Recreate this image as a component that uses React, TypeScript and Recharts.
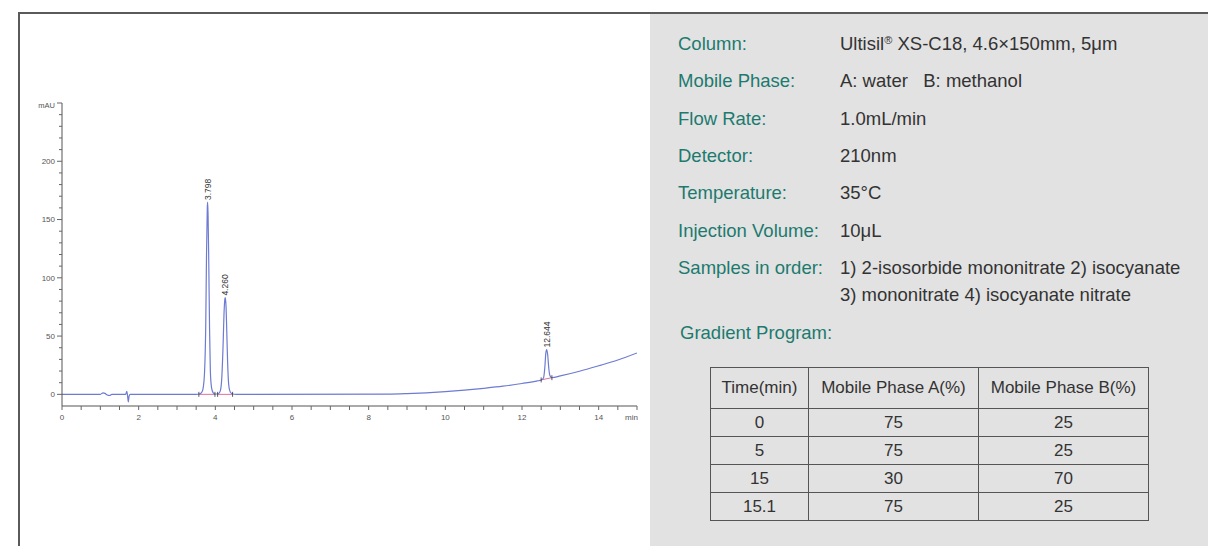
import React from 'react';
import { LineChart, Line, XAxis, YAxis } from 'recharts';

// ---- Chromatogram trace (time in min, signal in mAU) ----
const traceTime = [
  0, 1.0, 1.07, 1.12, 1.18, 1.24, 1.3, 1.66, 1.69, 1.71, 1.73, 1.75, 1.78,
  3.5, 3.58, 3.64, 3.68, 3.72, 3.75, 3.77, 3.79, 3.798, 3.81, 3.83, 3.85, 3.87, 3.9, 3.94, 3.99,
  4.08, 4.13, 4.17, 4.2, 4.23, 4.25, 4.26, 4.28, 4.3, 4.32, 4.35, 4.39, 4.45, 4.55,
  8.5, 9.0, 9.5, 10.0, 10.5, 11.0, 11.5, 12.0, 12.4, 12.5, 12.56, 12.6, 12.62, 12.644,
  12.67, 12.7, 12.73, 12.78, 13.0, 13.5, 14.0, 14.5, 15.0,
];
const traceSignal = [
  0, 0, 1.2, 0.8, -0.6, -1.0, 0, 0, 2.5, -1, -6.5, -1.5, 0,
  0, 0.3, 1.5, 5, 20, 60, 120, 160, 165, 155, 110, 55, 20, 6, 1.5, 0.2,
  0.5, 3, 15, 40, 72, 82, 83, 75, 52, 28, 8, 2, 0.3, 0,
  0.2, 0.6, 1.3, 2.3, 3.6, 5.2, 7.0, 9.3, 11.5, 12.3, 14, 25, 35, 38.5,
  34, 22, 16, 14.3, 15.8, 19.8, 24.5, 29.5, 35.5,
];

// integration baselines (pink) under each peak
const baseTime = [3.57, 3.99, 4.02, 4.06, 4.45, 4.6, 12.5, 12.78];
const baseSignal = [0, 0, null, 0, 0, null, 12.4, 14.3];

// peak annotations
const peakTimes = [3.798, 4.26, 12.644];
const peakLabels = ['3.798', '4.260', '12.644'];

// axes
const xTicks = [0, 0.5, 1, 1.5, 2, 2.5, 3, 3.5, 4, 4.5, 5, 5.5, 6, 6.5, 7, 7.5, 8, 8.5, 9, 9.5, 10, 10.5, 11, 11.5, 12, 12.5, 13, 13.5, 14, 14.5, 15];
const xLabelTicks = [0, 2, 4, 6, 8, 10, 12, 14];
const yTicks = [0, 10, 20, 30, 40, 50, 60, 70, 80, 90, 100, 110, 120, 130, 140, 150, 160, 170, 180, 190, 200, 210, 220, 230, 240, 250];
const yLabelTicks = [0, 50, 100, 150, 200];

// conditions panel
const condLabels = ['Column:', 'Mobile Phase:', 'Flow Rate:', 'Detector:', 'Temperature:', 'Injection Volume:', 'Samples in order:'];
const condValues = [
  'Ultisil® XS-C18, 4.6×150mm, 5μm',
  'A: water\u00a0\u00a0\u00a0B: methanol',
  '1.0mL/min',
  '210nm',
  '35°C',
  '10μL',
  '1) 2-isosorbide mononitrate 2) isocyanate',
];
const samplesLine2 = '3) mononitrate 4) isocyanate nitrate';

const gradHeaders = ['Time(min)', 'Mobile Phase A(%)', 'Mobile Phase B(%)'];
const gradTime = ['0', '5', '15', '15.1'];
const gradA = ['75', '75', '30', '75'];
const gradB = ['25', '25', '70', '25'];

const traceData = traceTime.map((t, i) => ({ t, v: traceSignal[i] }));
const baseData = baseTime.map((t, i) => ({ t, b: baseSignal[i] }));

const PLOT_LEFT = 62;
const PLOT_BOTTOM = 406;
const AX_FONT = 'Arial, "Liberation Sans", sans-serif';

const YTick = (props: any) => {
  const { y, payload } = props;
  const v = payload.value;
  const major = yLabelTicks.includes(v) || v === 250;
  const len = major ? 5 : 3;
  return (
    <g>
      <line x1={PLOT_LEFT - len} x2={PLOT_LEFT} y1={y} y2={y} stroke="#666" strokeWidth={1} />
      {yLabelTicks.includes(v) && (
        <text x={PLOT_LEFT - 7} y={y} dy="0.35em" textAnchor="end" fontSize={8} fill="#555" fontFamily={AX_FONT}>
          {v}
        </text>
      )}
      {v === 250 && (
        <text x={PLOT_LEFT - 7} y={y + 2} dy="0.35em" textAnchor="end" fontSize={7.5} fill="#555" fontFamily={AX_FONT}>
          mAU
        </text>
      )}
    </g>
  );
};

const XTick = (props: any) => {
  const { x, payload } = props;
  const v = payload.value;
  return (
    <g>
      <line x1={x} x2={x} y1={PLOT_BOTTOM} y2={PLOT_BOTTOM + 4} stroke="#666" strokeWidth={1} />
      {xLabelTicks.includes(v) && (
        <text x={x} y={PLOT_BOTTOM + 13.5} textAnchor="middle" fontSize={8} fill="#555" fontFamily={AX_FONT}>
          {v}
        </text>
      )}
      {v === 15 && (
        <text x={x + 1} y={PLOT_BOTTOM + 13.5} textAnchor="end" fontSize={8} fill="#555" fontFamily={AX_FONT}>
          min
        </text>
      )}
    </g>
  );
};

const PeakDot = (props: any) => {
  const { cx, cy, payload, index } = props;
  const i = peakTimes.indexOf(payload.t);
  if (i < 0) return <g key={`pd${index}`} />;
  const yy = cy - 2;
  return (
    <text
      key={`pd${index}`}
      x={cx}
      y={yy}
      dy="0.35em"
      transform={`rotate(-90 ${cx} ${yy})`}
      textAnchor="start"
      fontSize={8.5}
      fill="#333"
      fontFamily={AX_FONT}
    >
      {peakLabels[i]}
    </text>
  );
};

const BaseDot = (props: any) => {
  const { cx, cy, payload, index } = props;
  if (payload.b === null || payload.b === undefined) return <g key={`bd${index}`} />;
  return <line key={`bd${index}`} x1={cx} x2={cx} y1={cy - 2.5} y2={cy + 2.5} stroke="#333" strokeWidth={0.8} />;
};

export default function App() {
  const labelColor = '#1c7a6f';
  const valueColor = '#333';
  const rowCenters = [44, 81, 119, 156, 193, 231, 268];
  const textStyle: React.CSSProperties = {
    position: 'absolute',
    fontSize: 18.5,
    lineHeight: '22px',
    whiteSpace: 'nowrap',
  };
  const cellBorder = '1.5px solid #555';
  return (
    <div
      style={{
        position: 'absolute',
        left: 0,
        top: 0,
        width: 1208,
        height: 546,
        background: '#fff',
        overflow: 'hidden',
        fontFamily: 'Arial, "Liberation Sans", sans-serif',
      }}
    >
      <div style={{ position: 'absolute', left: 650, top: 13, width: 558, height: 533, background: '#e2e2e2' }} />
      <div style={{ position: 'absolute', left: 18, top: 12, width: 1190, height: 1.5, background: '#5a5a5a' }} />
      <div style={{ position: 'absolute', left: 18, top: 12, width: 1.5, height: 534, background: '#5a5a5a' }} />

      <div style={{ position: 'absolute', left: 0, top: 0 }}>
        <LineChart width={650} height={546} data={traceData} margin={{ top: 103, right: 13, bottom: 110, left: 22 }}>
          <XAxis
            type="number"
            dataKey="t"
            domain={[0, 15]}
            ticks={xTicks}
            interval={0}
            tick={XTick}
            tickLine={false}
            axisLine={{ stroke: '#555', strokeWidth: 1 }}
            height={30}
            allowDataOverflow
          />
          <YAxis
            type="number"
            domain={[-10, 250]}
            ticks={yTicks}
            interval={0}
            tick={YTick}
            tickLine={false}
            axisLine={{ stroke: '#555', strokeWidth: 1 }}
            width={40}
            allowDataOverflow
          />
          <Line
            data={baseData}
            dataKey="b"
            type="linear"
            stroke="#e0719b"
            strokeWidth={1}
            dot={BaseDot}
            activeDot={false}
            connectNulls={false}
            isAnimationActive={false}
          />
          <Line
            dataKey="v"
            type="monotone"
            stroke="#6d7bd2"
            strokeWidth={1.2}
            dot={PeakDot}
            activeDot={false}
            isAnimationActive={false}
          />
        </LineChart>
      </div>

      {condLabels.map((lab, i) => (
        <div key={`l${i}`} style={{ ...textStyle, left: 678, top: rowCenters[i] - 11, color: labelColor }}>
          {lab}
        </div>
      ))}
      {condValues.map((val, i) => (
        <div key={`v${i}`} style={{ ...textStyle, left: 840, top: rowCenters[i] - 11, color: valueColor }}>
          {i === 0 ? (
            <span>
              Ultisil<sup style={{ fontSize: 11, verticalAlign: 'top', lineHeight: '14px' }}>®</sup>
              {val.slice(8)}
            </span>
          ) : (
            val
          )}
        </div>
      ))}
      <div style={{ ...textStyle, left: 840, top: 295 - 11, color: valueColor }}>{samplesLine2}</div>
      <div style={{ ...textStyle, left: 680, top: 333 - 11, color: labelColor }}>Gradient Program:</div>

      <table
        style={{
          position: 'absolute',
          left: 710,
          top: 367,
          borderCollapse: 'collapse',
          fontSize: 17,
          color: valueColor,
          fontFamily: 'Arial, "Liberation Sans", sans-serif',
        }}
      >
        <tbody>
          <tr style={{ height: 41 }}>
            {gradHeaders.map((h, i) => (
              <td
                key={`h${i}`}
                style={{ border: cellBorder, width: i === 0 ? 97 : 169, textAlign: 'center', padding: 0 }}
              >
                {h}
              </td>
            ))}
          </tr>
          {gradTime.map((t, r) => (
            <tr key={`r${r}`} style={{ height: 28 }}>
              <td style={{ border: cellBorder, textAlign: 'center', padding: 0 }}>{t}</td>
              <td style={{ border: cellBorder, textAlign: 'center', padding: 0 }}>{gradA[r]}</td>
              <td style={{ border: cellBorder, textAlign: 'center', padding: 0 }}>{gradB[r]}</td>
            </tr>
          ))}
        </tbody>
      </table>
    </div>
  );
}
